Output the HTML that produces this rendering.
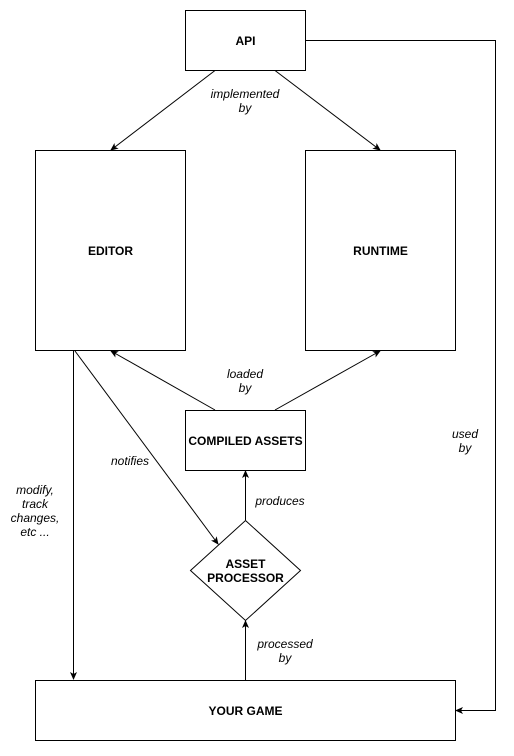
<!DOCTYPE html>
<html><head><meta charset="utf-8"><style>html,body{margin:0;padding:0;background:#fff}</style></head>
<body>
<svg width="514" height="751" xmlns="http://www.w3.org/2000/svg" font-family="Liberation Sans, sans-serif">
<defs>
<marker id="a" markerWidth="8" markerHeight="8" refX="7" refY="4" orient="auto" markerUnits="userSpaceOnUse">
<path d="M0,0.5 L8,4 L0,7.5 L2,4 Z" fill="#000"/>
</marker>
</defs>
<rect width="514" height="751" fill="#fff"/>
<g fill="#fff" stroke="#000" stroke-width="1">
<rect x="185.5" y="10.5" width="120" height="60"/>
<rect x="35.5" y="150.5" width="150" height="200"/>
<rect x="305.5" y="150.5" width="150" height="200"/>
<rect x="185.5" y="410.5" width="120" height="60"/>
<path d="M245.5,520.5 L300.5,570.5 L245.5,620.5 L190.5,570.5 Z"/>
<rect x="35.5" y="680.5" width="420" height="60"/>
</g>
<g stroke="#000" stroke-width="1" fill="none" marker-end="url(#a)">
<line x1="215" y1="70.5" x2="111" y2="150"/>
<line x1="275" y1="70.5" x2="380" y2="150"/>
<polyline points="305.5,40.5 495.5,40.5 495.5,710.5 456,710.5"/>
<line x1="215" y1="410" x2="111" y2="351"/>
<line x1="275" y1="410" x2="380" y2="351"/>
<line x1="73.5" y1="350.5" x2="73.5" y2="679"/>
<line x1="75" y1="351" x2="218" y2="544"/>
<line x1="245.5" y1="520" x2="245.5" y2="471"/>
<line x1="245.5" y1="680" x2="245.5" y2="621"/>
</g>
<g font-size="12" font-weight="bold" text-anchor="middle">
<text x="245.5" y="45">API</text>
<text x="110.5" y="255">EDITOR</text>
<text x="380.5" y="255">RUNTIME</text>
<text x="245.5" y="445">COMPILED ASSETS</text>
<text x="245.5" y="568">ASSET</text>
<text x="245.5" y="582">PROCESSOR</text>
<text x="245.5" y="715">YOUR GAME</text>
</g>
<g font-size="12" font-style="italic" text-anchor="middle">
<text x="245" y="98">implemented</text>
<text x="245" y="112">by</text>
<text x="245" y="378">loaded</text>
<text x="245" y="392">by</text>
<text x="465" y="438">used</text>
<text x="465" y="452">by</text>
<text x="130" y="465">notifies</text>
<text x="280" y="505">produces</text>
<text x="35" y="494">modify,</text>
<text x="35" y="508">track</text>
<text x="35" y="522">changes,</text>
<text x="35" y="536">etc ...</text>
<text x="285" y="648">processed</text>
<text x="285" y="662">by</text>
</g>
</svg>
</body></html>
